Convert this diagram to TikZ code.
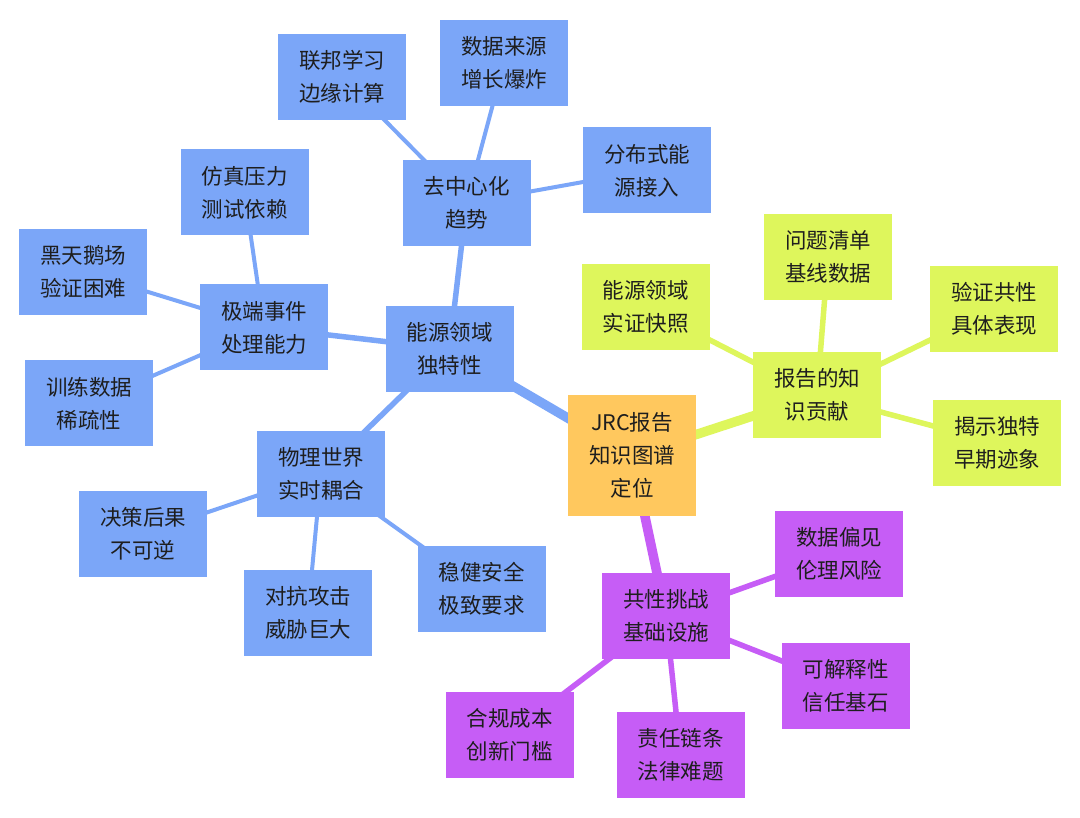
\documentclass[tikz,border=0pt]{standalone}
\usepackage{fontspec}
\setmainfont{Noto Sans CJK SC}
\usetikzlibrary{backgrounds}
\definecolor{cblue}{HTML}{7BA6F8}
\definecolor{cyel}{HTML}{DEF65C}
\definecolor{corg}{HTML}{FFC85E}
\definecolor{cpur}{HTML}{C65DF6}
\definecolor{ctext}{HTML}{1E1E1E}
\tikzset{
  box/.style={rectangle, inner sep=0pt, minimum width=128pt, minimum height=86pt,
    align=center, text=ctext, font=\fontsize{21.5}{33}\selectfont},
  bluebox/.style={box, fill=cblue},
  yelbox/.style={box, fill=cyel},
  purbox/.style={box, fill=cpur},
  rootbox/.style={box, fill=corg, minimum height=121pt},
  e1/.style={line width=9.5pt},
  e2/.style={line width=5.5pt},
  e3/.style={line width=4pt},
}
\begin{document}
\begin{tikzpicture}[x=1pt,y=-1pt]
\useasboundingbox (0,0) rectangle (1080,818);
% root
\node[rootbox] (root) at (632,455.5) {JRC报告\\知识图谱\\定位};
% blue branch
\node[bluebox] (nrg) at (449.5,349) {能源领域\\独特性};
\node[bluebox] (dec) at (466.5,203) {去中心化\\趋势};
\node[bluebox] (fed) at (342,77) {联邦学习\\边缘计算};
\node[bluebox] (src) at (504,63) {数据来源\\增长爆炸};
\node[bluebox] (dist) at (647,170.5) {分布式能\\源接入};
\node[bluebox] (ext) at (264,327.5) {极端事件\\处理能力};
\node[bluebox] (sim) at (244.5,192.5) {仿真压力\\测试依赖};
\node[bluebox] (bs) at (83,272) {黑天鹅场\\验证困难};
\node[bluebox] (trn) at (89,403.5) {训练数据\\稀疏性};
\node[bluebox] (phy) at (321,474) {物理世界\\实时耦合};
\node[bluebox] (irr) at (143,534) {决策后果\\不可逆};
\node[bluebox] (adv) at (308,613) {对抗攻击\\威胁巨大};
\node[bluebox] (rob) at (481.5,589) {稳健安全\\极致要求};
% yellow branch
\node[yelbox] (rep) at (817,395) {报告的知\\识贡献};
\node[yelbox] (snap) at (645.5,307) {能源领域\\实证快照};
\node[yelbox] (base) at (828,257) {问题清单\\基线数据};
\node[yelbox] (ver) at (994,309) {验证共性\\具体表现};
\node[yelbox] (rev) at (997,443) {揭示独特\\早期迹象};
% purple branch
\node[purbox] (com) at (666,615.5) {共性挑战\\基础设施};
\node[purbox] (bias) at (839,553.5) {数据偏见\\伦理风险};
\node[purbox] (expl) at (845.5,686) {可解释性\\信任基石};
\node[purbox] (resp) at (680.5,755) {责任链条\\法律难题};
\node[purbox] (comp) at (509.5,735) {合规成本\\创新门槛};
\begin{pgfonlayer}{background}
\fill[white] (0,0) rectangle (1080,818);
\draw[e1, cblue] (root.center) -- (nrg.center);
\draw[e1, cyel] (root.center) -- (rep.center);
\draw[e1, cpur] (root.center) -- (com.center);
\draw[e2, cblue] (nrg.center) -- (dec.center);
\draw[e2, cblue] (nrg.center) -- (ext.center);
\draw[e2, cblue] (nrg.center) -- (phy.center);
\draw[e3, cblue] (dec.center) -- (fed.center);
\draw[e3, cblue] (dec.center) -- (src.center);
\draw[e3, cblue] (dec.center) -- (dist.center);
\draw[e3, cblue] (ext.center) -- (sim.center);
\draw[e3, cblue] (ext.center) -- (bs.center);
\draw[e3, cblue] (ext.center) -- (trn.center);
\draw[e3, cblue] (phy.center) -- (irr.center);
\draw[e3, cblue] (phy.center) -- (adv.center);
\draw[e3, cblue] (phy.center) -- (rob.center);
\draw[e2, cyel] (rep.center) -- (snap.center);
\draw[e2, cyel] (rep.center) -- (base.center);
\draw[e2, cyel] (rep.center) -- (ver.center);
\draw[e2, cyel] (rep.center) -- (rev.center);
\draw[e2, cpur] (com.center) -- (bias.center);
\draw[e2, cpur] (com.center) -- (expl.center);
\draw[e2, cpur] (com.center) -- (resp.center);
\draw[e2, cpur] (com.center) -- (comp.center);
\end{pgfonlayer}
\end{tikzpicture}
\end{document}
